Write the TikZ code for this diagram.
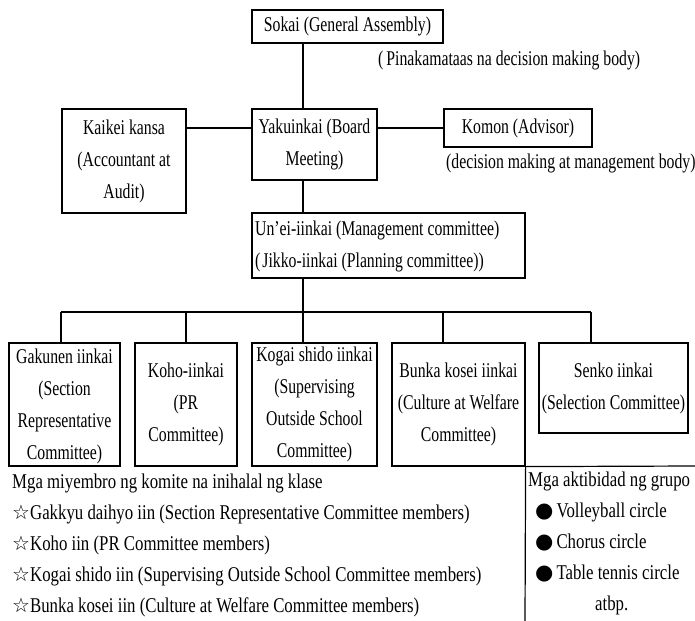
\documentclass[tikz,border=0pt]{standalone}
\usepackage{fontspec}
\setmainfont{Liberation Serif}[FakeStretch=0.75]
\newfontfamily\listfam{Liberation Serif}[FakeStretch=0.8]
\newfontfamily\symf{DejaVu Sans}
\newcommand\bodyfont{\fontsize{21bp}{32bp}\selectfont}
\newcommand\listfont{\listfam\fontsize{21bp}{31bp}\selectfont}
\newcommand\wstar{{\symf\fontsize{20bp}{31bp}\selectfont ☆}}
\begin{document}
\begin{tikzpicture}[x=1bp,y=-1bp,
  box/.style={draw=black, line width=1.2bp, inner sep=0pt, align=center, font=\bodyfont},
  lbl/.style={inner sep=0pt, font=\bodyfont},
  lst/.style={inner sep=0pt, align=left, font=\listfont},
  link/.style={draw=black, line width=1.2bp}]
\useasboundingbox (0,0) rectangle (695,621);
\fill[white] (0,0) rectangle (695,621);

% top
\node[box, minimum width=191bp, minimum height=33bp] (sokai) at (347.5,26.5) {Sokai (General Assembly)};
\node[lbl, anchor=west] (pina) at (378,60) {(\hspace{3bp}Pinakamataas na decision making body)};

% board row
\node[box, minimum width=124bp, minimum height=104bp] (kaikei) at (124,161) {Kaikei kansa\\(Accountant at\\Audit)};
\node[box, minimum width=125bp, minimum height=71bp] (yaku) at (314.5,144.5) {Yakuinkai (Board\\Meeting)};
\node[box, minimum width=148bp, minimum height=38bp] (komon) at (518,128) {Komon (Advisor)};
\node[lbl, anchor=west] (decis) at (446,163) {(decision making at management body)};

% management
\node[box, minimum width=273bp, minimum height=65bp] (unei) at (388.5,245.5) {};
\node[lbl, align=left, anchor=west] (ueitext) at (255,246.5) {Un'ei-iinkai (Management committee)\\(\hspace{2bp}Jikko-iinkai (Planning committee))};

% committees
\node[box, minimum width=111bp, minimum height=123bp, text depth=0pt] (gak) at (64.5,404.5) {Gakunen iinkai\\(Section\\Representative\\Committee)};
\node[box, minimum width=102bp, minimum height=123bp] (koho) at (186,404.5) {Koho-iinkai\\(PR\\Committee)};
\node[box, minimum width=125bp, minimum height=123bp] (kogai) at (314.5,404.5) {Kogai shido iinkai\\(Supervising\\Outside School\\Committee)};
\node[box, minimum width=133bp, minimum height=123bp] (bunka) at (458.5,404.5) {Bunka kosei iinkai\\(Culture at Welfare\\Committee)};
\node[box, minimum width=149bp, minimum height=90bp] (senko) at (613.5,388) {Senko iinkai\\(Selection Committee)};

% coordinates
\coordinate (spine) at (303,0);
\coordinate (dA) at (61,312);
\coordinate (dB) at (186,312);
\coordinate (dC) at (303,312);
\coordinate (dD) at (443,312);
\coordinate (dE) at (591,312);
\coordinate (actbot) at (525,621);
\coordinate (actright) at (695,466);

% connectors
\draw[link] (sokai.south -| spine) -- (yaku.north -| spine);
\draw[link] (kaikei.east |- komon.west) -- (yaku.west |- komon.west);
\draw[link] (yaku.east |- komon.west) -- (komon.west);
\draw[link] (yaku.south -| spine) -- (unei.north -| spine);
\draw[link] (unei.south -| spine) -- (dC);
\draw[link] (dA) -- (dE);
\draw[link] (dA) -- (dA |- gak.north);
\draw[link] (dB) -- (koho.north);
\draw[link] (dC) -- (dC |- kogai.north);
\draw[link] (dD) -- (dD |- bunka.north);
\draw[link] (dE) -- (dE |- senko.north);
\draw[link] (bunka.south east) -- (actbot);
\draw[link] (bunka.south east) -- (actright);

% lists
\node[lst, anchor=west] (members) at (12,545) {Mga miyembro ng komite na inihalal ng klase\\
\wstar Gakkyu daihyo iin (Section Representative Committee members)\\
\wstar Koho iin (PR Committee members)\\
\wstar Kogai shido iin (Supervising Outside School Committee members)\\
\wstar Bunka kosei iin (Culture at Welfare Committee members)};
\node[lst, anchor=west] (acts) at (528,543) {Mga aktibidad ng grupo\\
\hspace*{7bp}{\symf ●}\hspace{3bp}Volleyball circle\\
\hspace*{7bp}{\symf ●}\hspace{3bp}Chorus circle\\
\hspace*{7bp}{\symf ●}\hspace{3bp}Table tennis circle\\
\hspace*{67bp}atbp.};
\end{tikzpicture}
\end{document}
